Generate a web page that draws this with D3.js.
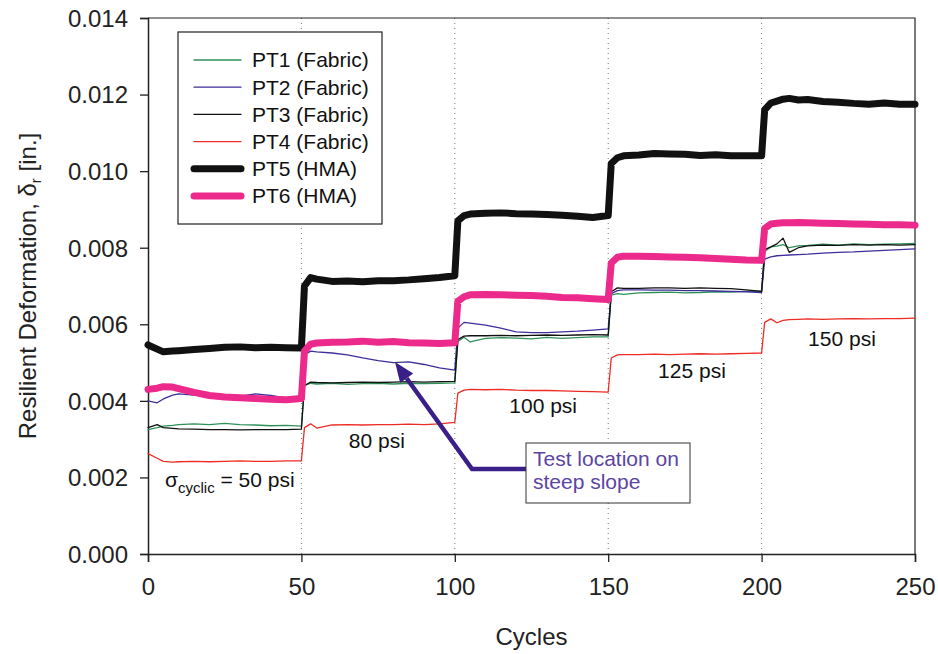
<!DOCTYPE html>
<html>
<head>
<meta charset="utf-8">
<script src="https://cdn.jsdelivr.net/npm/d3@7"></script>
<style>
  body { margin: 0; background: #fff; }
  svg { font-family: Arial, "Liberation Sans", sans-serif; }
</style>
</head>
<body>
<svg id="chart" width="938" height="654"></svg>
<script>
// cycle numbers shared by every sensor trace
const cycles = [
  0, 3, 5, 8, 10, 15, 20, 25, 30, 35, 40, 45, 50,
  51, 53, 55, 60, 65, 70, 75, 80, 85, 90, 95, 100,
  101, 103, 105, 110, 115, 120, 125, 130, 135, 140, 145, 150,
  151, 153, 155, 160, 165, 170, 175, 180, 185, 190, 195, 200,
  201, 203, 205, 207, 209, 212, 215, 220, 225, 230, 235, 240, 245, 250
];

const pt1 = [
  .00325, .00330, .00334, .00336, .00338, .00340, .00338, .00341, .00338, .00337, .00335, .00336, .00334,
  .00440, .00446, .00444, .00446, .00443, .00445, .00446, .00444, .00446, .00445, .00446, .00447,
  .00555, .00566, .00554, .00563, .00565, .00564, .00562, .00566, .00563, .00565, .00567, .00567,
  .00676, .00680, .00678, .00682, .00683, .00684, .00682, .00683, .00685, .00684, .00686, .00687,
  .00790, .00802, .00804, .00808, .00800, .00805, .00806, .00809, .00807, .00810, .00808, .00809, .00810, .00811
];
const pt2 = [
  .00400, .00395, .00405, .00415, .00418, .00415, .00412, .00410, .00412, .00418, .00414, .00408, .00402,
  .00520, .00530, .00528, .00525, .00520, .00512, .00505, .00500, .00502, .00495, .00486, .00480,
  .00590, .00605, .00603, .00598, .00590, .00580, .00578, .00578, .00580, .00582, .00585, .00588,
  .00680, .00688, .00690, .00690, .00689, .00689, .00688, .00688, .00687, .00686, .00685, .00683,
  .00770, .00776, .00779, .00780, .00781, .00782, .00783, .00786, .00788, .00789, .00791, .00793, .00795, .00797
];
const pt3 = [
  .00330, .00338, .00330, .00328, .00327, .00326, .00325, .00325, .00324, .00325, .00325, .00325, .00326,
  .00440, .00449, .00448, .00447, .00448, .00449, .00448, .00449, .00450, .00449, .00450, .00451,
  .00560, .00569, .00570, .00570, .00571, .00570, .00571, .00572, .00571, .00572, .00573, .00572,
  .00685, .00695, .00694, .00694, .00695, .00695, .00694, .00695, .00694, .00693, .00690, .00686,
  .00795, .00802, .00810, .00825, .00788, .00800, .00805, .00807, .00806, .00808, .00807, .00808, .00807, .00808
];
const pt4 = [
  .00262, .00250, .00242, .00240, .00241, .00242, .00241, .00242, .00243, .00242, .00242, .00243, .00243,
  .00330, .00340, .00329, .00337, .00338, .00337, .00338, .00338, .00339, .00338, .00340, .00344,
  .00420, .00428, .00430, .00429, .00430, .00428, .00427, .00427, .00426, .00425, .00424, .00423,
  .00512, .00520, .00521, .00521, .00522, .00521, .00522, .00523, .00522, .00523, .00524, .00525,
  .00605, .00614, .00604, .00610, .00612, .00613, .00614, .00613, .00614, .00615, .00614, .00615, .00615, .00616
];
const pt5 = [
  .00546, .00535, .00528, .00530, .00531, .00534, .00537, .00540, .00541, .00539, .00540, .00539, .00538,
  .00700, .00722, .00718, .00712, .00713, .00711, .00714, .00714, .00716, .00719, .00722, .00727,
  .00870, .00884, .00888, .00890, .00891, .00889, .00888, .00887, .00885, .00882, .00879, .00884,
  .01020, .01035, .01040, .01042, .01046, .01045, .01044, .01041, .01043, .01040, .01040, .01040,
  .01160, .01178, .01183, .01188, .01190, .01186, .01187, .01182, .01180, .01177, .01175, .01178, .01175, .01175
];
const pt6 = [
  .00430, .00433, .00437, .00436, .00432, .00422, .00414, .00410, .00408, .00406, .00404, .00403, .00406,
  .00530, .00548, .00551, .00553, .00554, .00556, .00553, .00555, .00552, .00551, .00550, .00552,
  .00660, .00672, .00677, .00678, .00677, .00676, .00675, .00673, .00670, .00669, .00667, .00665,
  .00760, .00775, .00778, .00778, .00777, .00776, .00775, .00774, .00772, .00770, .00768, .00767,
  .00850, .00862, .00864, .00865, .00865, .00866, .00865, .00864, .00863, .00862, .00861, .00860, .00860, .00859
];

const seriesNames = ['PT1 (Fabric)', 'PT2 (Fabric)', 'PT3 (Fabric)', 'PT4 (Fabric)', 'PT5 (HMA)', 'PT6 (HMA)'];
const seriesValues = [pt1, pt2, pt3, pt4, pt5, pt6];
const seriesColors = ['#2f9158', '#3d2e9c', '#111111', '#ee2b24', '#111111', '#ec2a8b'];
const seriesWidths = [1.3, 1.3, 1.3, 1.3, 7, 7];

const xTicks = [0, 50, 100, 150, 200, 250];
const yTicks = [0, .002, .004, .006, .008, .010, .012, .014];
const gridCycles = [50, 100, 150, 200];

// stress level labels: [cycle, value, text]
const stressLabels = [
  [74.6, .00277, '80 psi'],
  [128.8, .00368, '100 psi'],
  [177.3, .00460, '125 psi'],
  [226.2, .00543, '150 psi']
];

const margin = { top: 18, right: 23, bottom: 100, left: 148 };
const width = 938, height = 654;

const svg = d3.select('#chart');

const x = d3.scaleLinear().domain([0, 250]).range([margin.left, width - margin.right]);
const y = d3.scaleLinear().domain([0, .014]).range([height - margin.bottom, margin.top]);

// Dotted gridlines at the load changes
svg.append('g')
  .selectAll('line')
  .data(gridCycles)
  .join('line')
  .attr('x1', d => x(d)).attr('x2', d => x(d))
  .attr('y1', y(.014)).attr('y2', y(0))
  .attr('stroke', '#777')
  .attr('stroke-width', 1)
  .attr('stroke-dasharray', '1,4');

// Frame (top and right)
svg.append('path')
  .attr('d', `M${x(0)},${y(.014)}H${x(250)}V${y(0)}`)
  .attr('fill', 'none')
  .attr('stroke', '#222')
  .attr('stroke-width', 1.2);

// Axes
const xAxis = svg.append('g')
  .attr('transform', `translate(0,${y(0)})`)
  .call(d3.axisBottom(x).tickValues(xTicks).tickSize(8).tickPadding(16).tickFormat(d3.format('d')));
const yAxis = svg.append('g')
  .attr('transform', `translate(${x(0)},0)`)
  .call(d3.axisLeft(y).tickValues(yTicks).tickSize(8).tickPadding(12).tickFormat(d3.format('.3f')));

[xAxis, yAxis].forEach(g => {
  g.select('.domain').attr('stroke', '#222').attr('stroke-width', 1.5);
  g.selectAll('.tick line').attr('stroke', '#222').attr('stroke-width', 1.3);
  g.selectAll('.tick text').attr('font-size', 24).attr('fill', '#222')
    .attr('font-family', 'Arial, "Liberation Sans", sans-serif');
});
yAxis.selectAll('.tick text').attr('dy', '0.35em');

// Axis titles
svg.append('text')
  .attr('x', (x(0) + x(250)) / 2)
  .attr('y', 645)
  .attr('text-anchor', 'middle')
  .attr('font-size', 24)
  .attr('fill', '#222')
  .text('Cycles');

const yTitle = svg.append('text')
  .attr('transform', `translate(36,${(y(0) + y(.014)) / 2}) rotate(-90)`)
  .attr('text-anchor', 'middle')
  .attr('font-size', 24)
  .attr('fill', '#222');
yTitle.append('tspan').text('Resilient Deformation, δ');
yTitle.append('tspan').attr('font-size', 15).attr('dy', 5).text('r');
yTitle.append('tspan').attr('dy', -5).text(' [in.]');

// Traces
const line = d3.line()
  .x((d, i) => x(cycles[i]))
  .y(d => y(d));

svg.append('g')
  .selectAll('path')
  .data(seriesValues)
  .join('path')
  .attr('d', d => line(d))
  .attr('fill', 'none')
  .attr('stroke', (d, i) => seriesColors[i])
  .attr('stroke-width', (d, i) => seriesWidths[i])
  .attr('stroke-linejoin', 'round')
  .attr('stroke-linecap', 'round');

// Stress labels
svg.append('g')
  .attr('font-size', 21)
  .attr('fill', '#111')
  .attr('text-anchor', 'middle')
  .selectAll('text')
  .data(stressLabels)
  .join('text')
  .attr('x', d => x(d[0]))
  .attr('y', d => y(d[1]))
  .text(d => d[2]);

const sigma = svg.append('text')
  .attr('x', 165)
  .attr('y', 487)
  .attr('font-size', 21)
  .attr('fill', '#111');
sigma.append('tspan').text('σ');
sigma.append('tspan').attr('font-size', 15).attr('dy', 6).text('cyclic');
sigma.append('tspan').attr('dy', -6).text(' = 50 psi');

// Legend
const legend = svg.append('g').attr('transform', 'translate(178,32)');
legend.append('rect')
  .attr('width', 204).attr('height', 192)
  .attr('fill', '#fff')
  .attr('stroke', '#222')
  .attr('stroke-width', 1.2);
const rows = legend.selectAll('g.row')
  .data(seriesNames)
  .join('g')
  .attr('class', 'row')
  .attr('transform', (d, i) => `translate(0,${28 + i * 27.2})`);
rows.append('line')
  .attr('x1', 16).attr('x2', 63)
  .attr('stroke', (d, i) => seriesColors[i])
  .attr('stroke-width', (d, i) => seriesWidths[i])
  .attr('stroke-linecap', 'round');
rows.append('text')
  .attr('x', 74)
  .attr('dy', '0.35em')
  .attr('font-size', 21)
  .attr('fill', '#111')
  .text(d => d);

// Callout arrow
const arrowColor = '#3b1f88';
const tip = [395, 362], elbow = [472, 469], start = [526, 469];
const ang = Math.atan2(tip[1] - elbow[1], tip[0] - elbow[0]);
const headLen = 20, headW = 8;
const base = [tip[0] - headLen * Math.cos(ang), tip[1] - headLen * Math.sin(ang)];
svg.append('path')
  .attr('d', `M${start}L${elbow}L${base}`)
  .attr('fill', 'none')
  .attr('stroke', arrowColor)
  .attr('stroke-width', 4.5);
svg.append('path')
  .attr('d', `M${tip}L${base[0] + headW * Math.sin(ang)},${base[1] - headW * Math.cos(ang)}L${base[0] - headW * Math.sin(ang)},${base[1] + headW * Math.cos(ang)}Z`)
  .attr('fill', arrowColor);

const callout = svg.append('g').attr('transform', 'translate(526,443)');
callout.append('rect')
  .attr('width', 164).attr('height', 60)
  .attr('fill', '#fff')
  .attr('stroke', '#333')
  .attr('stroke-width', 1);
callout.append('text')
  .attr('x', 7).attr('y', 23)
  .attr('font-size', 21)
  .attr('fill', '#5c45a3')
  .call(t => t.append('tspan').text('Test location on'))
  .call(t => t.append('tspan').attr('x', 7).attr('dy', 23).text('steep slope'));
</script>
</body>
</html>
